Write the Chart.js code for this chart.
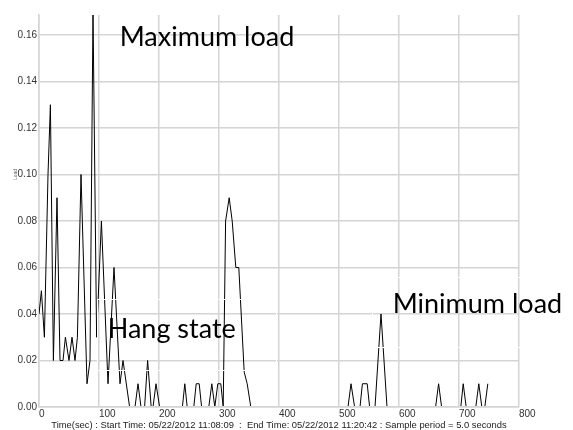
<!DOCTYPE html>
<html>
<head>
<meta charset="utf-8">
<script src="https://cdn.jsdelivr.net/npm/chart.js@4/dist/chart.umd.min.js"></script>
<style>
  html, body { margin: 0; padding: 0; background: #ffffff; }
  #wrap { width: 573px; height: 430px; }
</style>
</head>
<body>
<div id="wrap"><canvas id="c" width="573" height="430"></canvas></div>
<script>
// Load samples (seconds since start -> load), turning points of the trace
const times = [
  0, 4, 9, 15, 19, 24, 30, 35, 40, 44,
  50, 55, 60, 64, 70, 80, 85, 90, 96, 104,
  115, 125, 135, 140, 151, 160, 165, 170, 176, 181,
  187, 190, 195, 201, 239, 243, 247, 258, 262, 267,
  271, 283, 288, 293, 298, 303, 307, 311, 317, 322,
  328, 333, 342, 347, 353, 515, 520, 526, 535, 539,
  547, 551, 560, 570, 580, 661, 666, 671, 703, 707,
  712, 728, 733, 738, 743, 748
];
const loads = [
  0.04, 0.05, 0.03, 0.10, 0.13, 0.02, 0.09, 0.02, 0.02, 0.03,
  0.02, 0.03, 0.02, 0.03, 0.10, 0.01, 0.02, 0.17, 0.03, 0.08,
  0.01, 0.06, 0.01, 0.02, 0, 0, 0.01, 0, 0, 0.02,
  0, 0, 0.01, 0, 0, 0.01, 0, 0, 0.01, 0.01,
  0, 0, 0.01, 0, 0.01, 0.01, 0, 0.08, 0.09, 0.08,
  0.06, 0.06, 0.015, 0.01, 0, 0, 0.01, 0, 0, 0.01,
  0.01, 0, 0, 0.04, 0, 0, 0.01, 0, 0, 0.01,
  0, 0, 0.01, 0, 0, 0.01
];

const xTicks = [0, 100, 200, 300, 400, 500, 600, 700, 800];
const yTicks = [0, 0.02, 0.04, 0.06, 0.08, 0.10, 0.12, 0.14, 0.16];

const xTitle = 'Time(sec) : Start Time: 05/22/2012 11:08:09  :  End Time: 05/22/2012 11:20:42 : Sample period = 5.0 seconds';
const yTitle = 'Load';
const noteTexts = ['Maximum load', 'Hang state', 'Minimum load'];

const fontStack = "'Liberation Sans Narrow', 'Arial Narrow', 'Liberation Sans', Arial, sans-serif";
const tickFont = { family: fontStack, size: 10 };
const titleFont = { family: fontStack, size: 9.4 };
const gridColor = '#d4d4d4';

// callouts anchored in data units: [time, load] of the text baseline start
const noteAnchors = [[134.5, 0.1553], [114.5, 0.0297], [589.5, 0.0404]];
// white frames of the text boxes: [t0, v0, t1, v1]
const noteFrames = [[96, 0.0465, 395, 0.0159], [554.5, 0.056, 900, 0.0258]];

const calloutPlugin = {
  id: 'callouts',
  afterDatasetsDraw(chart) {
    const { ctx, scales: { x, y } } = chart;
    ctx.save();
    ctx.strokeStyle = '#ffffff';
    ctx.lineWidth = 1;
    noteFrames.forEach(([t0, v0, t1, v1]) => {
      const x0 = Math.round(x.getPixelForValue(t0)) + 0.5;
      const x1 = Math.round(x.getPixelForValue(t1)) + 0.5;
      const y0 = Math.round(y.getPixelForValue(v0)) + 0.5;
      const y1 = Math.round(y.getPixelForValue(v1)) + 0.5;
      ctx.strokeRect(x0, y0, x1 - x0, y1 - y0);
    });
    ctx.fillStyle = '#000000';
    ctx.font = "27px Lato, 'Open Sans', sans-serif";
    ctx.textBaseline = 'alphabetic';
    ctx.textAlign = 'left';
    noteTexts.forEach((txt, i) => {
      const [t, v] = noteAnchors[i];
      ctx.fillText(txt, x.getPixelForValue(t), y.getPixelForValue(v));
    });
    // small rotated axis caption beside the 0.10 label
    ctx.fillStyle = '#666666';
    ctx.font = "5px 'Liberation Sans', Arial, sans-serif";
    ctx.textAlign = 'center';
    ctx.textBaseline = 'middle';
    ctx.translate(16, y.getPixelForValue(0.10));
    ctx.rotate(-Math.PI / 2);
    ctx.fillText(yTitle, 0, 0);
    ctx.restore();
  }
};

new Chart(document.getElementById('c'), {
  type: 'line',
  data: {
    datasets: [{
      data: times.map((t, i) => ({ x: t, y: loads[i] })),
      borderColor: '#000000',
      borderWidth: 1,
      pointRadius: 0,
      tension: 0,
      fill: false,
      clip: { left: 0, top: 0, right: 0, bottom: -1 }
    }]
  },
  options: {
    responsive: false,
    animation: false,
    devicePixelRatio: 1,
    layout: { padding: { left: 0, top: 15, right: 54, bottom: 0 } },
    plugins: { legend: { display: false }, tooltip: { enabled: false } },
    scales: {
      x: {
        type: 'linear',
        min: 0,
        max: 800,
        afterFit(scale) { scale.height = 23; },
        afterBuildTicks(scale) { scale.ticks = xTicks.map(v => ({ value: v })); },
        grid: { color: gridColor, lineWidth: 1.5, drawTicks: false },
        border: { color: gridColor, width: 1.5 },
        ticks: { align: 'start', padding: 1, color: '#333333', font: tickFont, maxRotation: 0, autoSkip: false,
                 callback: v => String(v) },
        title: { display: true, text: xTitle, color: '#222222', font: titleFont, padding: { top: 0, bottom: -1.5 } }
      },
      y: {
        type: 'linear',
        min: 0,
        max: 0.1686,
        afterFit(scale) { scale.width = 39; },
        afterBuildTicks(scale) { scale.ticks = yTicks.map(v => ({ value: v })); },
        grid: { color: gridColor, lineWidth: 1.5, drawTicks: false },
        border: { color: gridColor, width: 1.5 },
        ticks: { padding: 2, color: '#333333', font: tickFont, autoSkip: false,
                 callback: v => Number(v).toFixed(2) }
      }
    }
  },
  plugins: [calloutPlugin]
});
</script>
</body>
</html>
